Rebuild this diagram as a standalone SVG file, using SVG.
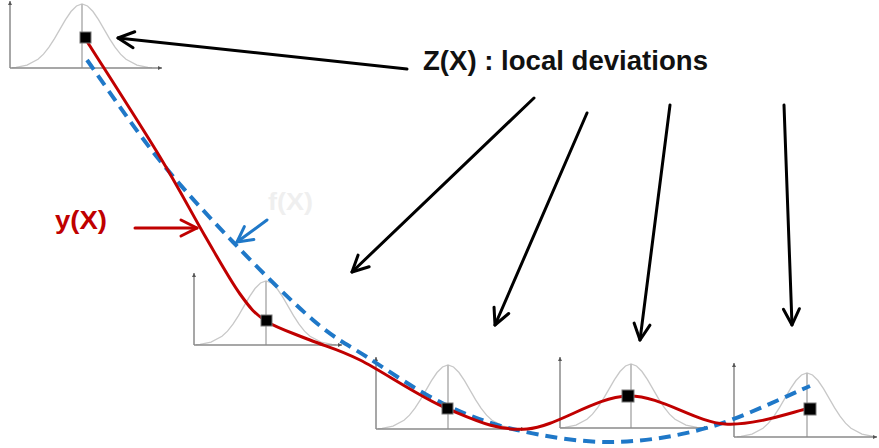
<svg xmlns="http://www.w3.org/2000/svg" xmlns:xlink="http://www.w3.org/1999/xlink" width="879" height="448" viewBox="0 0 879 448">
<style>
.axis{fill:none;stroke:#8a8a8a;stroke-width:1.5}
.gauss{fill:none;stroke:#c8c8c8;stroke-width:1.3}
.center{fill:none;stroke:#bdbdbd;stroke-width:1.8}
.pt{fill:#000;stroke:#777;stroke-width:1}
.yx{fill:none;stroke:#c00000;stroke-width:3;stroke-linecap:round;stroke-linejoin:round}
.fx{fill:none;stroke:#1f78c8;stroke-width:4;stroke-dasharray:12 7}
.blk{fill:none;stroke:#000;stroke-width:3;stroke-linecap:round}
.red{fill:none;stroke:#c00000;stroke-width:3;stroke-linecap:round}
.blu{fill:none;stroke:#1f78c8;stroke-width:3;stroke-linecap:round}
text{font-family:"Liberation Sans",Arial,sans-serif;font-weight:bold}
</style>
<defs>
<marker id="ab" markerUnits="userSpaceOnUse" viewBox="-20 -12 24 24" refX="0" refY="0" markerWidth="24" markerHeight="24" orient="auto">
<path d="M-16,-8 L0,0 L-16,8" fill="none" stroke="#000" stroke-width="3" stroke-linecap="round" stroke-linejoin="round"/>
</marker>
<marker id="ar" markerUnits="userSpaceOnUse" viewBox="-20 -12 24 24" refX="0" refY="0" markerWidth="24" markerHeight="24" orient="auto">
<path d="M-16,-8 L0,0 L-16,8" fill="none" stroke="#c00000" stroke-width="3" stroke-linecap="round" stroke-linejoin="round"/>
</marker>
<marker id="au" markerUnits="userSpaceOnUse" viewBox="-20 -12 24 24" refX="0" refY="0" markerWidth="24" markerHeight="24" orient="auto">
<path d="M-15,-8 L0,0 L-15,8" fill="none" stroke="#1f78c8" stroke-width="3" stroke-linecap="round" stroke-linejoin="round"/>
</marker>
<marker id="ax" markerUnits="userSpaceOnUse" viewBox="-5 -3 6 6" refX="0" refY="0" markerWidth="6" markerHeight="6" orient="auto">
<path d="M-4,-2 L0,0 L-4,2 Z" fill="#555"/>
</marker>
<g id="gcurve">
<path class="gauss" d="M-70,-0.3 L-66,-0.71 L-55,-2.81 L-44,-8.66 L-38.5,-13.86 L-33,-20.78 L-27.5,-29.3 L-22,-38.82 L-16.5,-48.31 L-11,-56.48 L-5.5,-62.03 L0,-64 L5.5,-62.03 L11,-56.48 L16.5,-48.31 L22,-38.82 L27.5,-29.3 L33,-20.78 L38.5,-13.86 L44,-8.66 L55,-2.81 L66,-0.71 L70,-0.3"/>
<path class="center" d="M0,0 V-64"/>
</g>
</defs>

<g id="panel-1">
<use xlink:href="#gcurve" transform="translate(82,68)"/>
<path class="axis" d="M10,68 V1" marker-end="url(#ax)"/>
<path class="axis" d="M10,68 H162" marker-end="url(#ax)"/>
</g>
<g id="panel-2">
<use xlink:href="#gcurve" transform="translate(266,345)"/>
<path class="axis" d="M194,345 V273" marker-end="url(#ax)"/>
<path class="axis" d="M194,345 H342" marker-end="url(#ax)"/>
</g>
<g id="panel-3">
<use xlink:href="#gcurve" transform="translate(448,429)"/>
<path class="axis" d="M376,429 V357" marker-end="url(#ax)"/>
<path class="axis" d="M376,429 H525" marker-end="url(#ax)"/>
</g>
<g id="panel-4">
<use xlink:href="#gcurve" transform="translate(631,428)"/>
<path class="axis" d="M560,428 V357" marker-end="url(#ax)"/>
<path class="axis" d="M560,428 H708" marker-end="url(#ax)"/>
</g>
<g id="panel-5">
<use xlink:href="#gcurve" transform="translate(807,437)"/>
<path class="axis" d="M734,437 V363" marker-end="url(#ax)"/>
<path class="axis" d="M734,437 H877" marker-end="url(#ax)"/>
</g>

<g id="fX-curve">
<path class="fx" d="M87,60 C98.7,76.2 132.7,126.7 157,157 C181.3,187.3 207,214.8 233,242 C259,269.2 290.7,300.8 313,320 C335.3,339.2 345.5,343.2 367,357 C388.5,370.8 417,390.8 442,403 C467,415.2 488.5,423.5 517,430 C545.5,436.5 580.8,442.5 613,442 C645.2,441.5 677.2,436.3 710,427 C742.8,417.7 793.3,392.8 810,386"/>
</g>
<g id="yX-curve">
<path class="yx" d="M88,43 C100,62 140.5,124.8 160,157 C179.5,189.2 191.7,213.2 205,236 C218.3,258.8 229.8,279.8 240,294 C250.2,308.2 254.3,313.3 266,321 C277.7,328.7 294.3,333.5 310,340 C325.7,346.5 337,348.5 360,360 C383,371.5 420.2,397.5 448,409 C475.8,420.5 497,431.2 527,429 C557,426.8 595,396.8 628,396 C661,395.2 694.7,422 725,424 C755.3,426 795.8,410.7 810,408"/>
</g>

<g id="points">
<rect class="pt" x="80" y="32" width="11" height="11"/>
<rect class="pt" x="261" y="315" width="11" height="11"/>
<rect class="pt" x="442" y="403" width="11" height="11"/>
<rect class="pt" x="622" y="390" width="12" height="12"/>
<rect class="pt" x="804" y="403" width="12" height="12"/>
</g>

<g id="connectors">
<line class="blk" x1="407" y1="69" x2="118" y2="38" marker-end="url(#ab)"/>
<line class="blk" x1="534" y1="98" x2="352" y2="272" marker-end="url(#ab)"/>
<line class="blk" x1="587" y1="113" x2="495" y2="325" marker-end="url(#ab)"/>
<line class="blk" x1="670" y1="105" x2="640" y2="340" marker-end="url(#ab)"/>
<line class="blk" x1="784" y1="105" x2="792" y2="325" marker-end="url(#ab)"/>
<line class="red" x1="135" y1="228" x2="197" y2="228" marker-end="url(#ar)"/>
<line class="blu" x1="267" y1="220" x2="237" y2="242" marker-end="url(#au)"/>
</g>

<g id="labels">
<text x="423" y="70" font-size="28" fill="#111" textLength="285" lengthAdjust="spacingAndGlyphs">Z(X) : local deviations</text>
<text x="55" y="229" font-size="25" fill="#c00000" textLength="52" lengthAdjust="spacingAndGlyphs">y(X)</text>
<text x="268" y="210" font-size="24" fill="#efefef" textLength="45" lengthAdjust="spacingAndGlyphs">f(X)</text>
</g>
</svg>
